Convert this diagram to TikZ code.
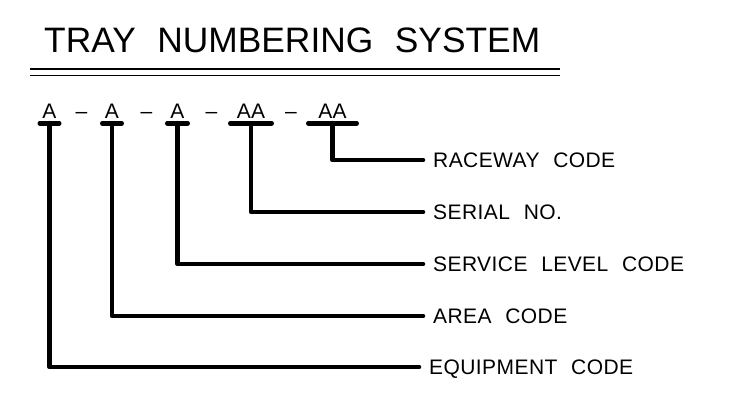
\documentclass[tikz,border=0pt]{standalone}
\usepackage{graphicx}
\usepackage{fontspec}
\newfontfamily\cad[WordSpace=2.2,LetterSpace=2]{Liberation Sans}
\newfontfamily\cadttl[WordSpace=2.2]{Liberation Sans}
\newcommand{\lblfont}{\cad\fontsize{21pt}{24pt}\selectfont}
\newcommand{\ttlfont}{\cadttl\fontsize{36.3pt}{40pt}\selectfont}
\begin{document}
\begin{tikzpicture}[x=1pt,y=-1pt,
  conn/.style={line width=4.6pt, line cap=round, line join=round},
  uline/.style={line width=4.6pt, line cap=round},
  rule/.style={line width=1.2pt},
  codeltr/.style={anchor=base, font=\lblfont, inner xsep=0pt, inner ysep=5pt,
    text depth=0pt, minimum width=#1},
  dashnode/.style={anchor=base, font=\lblfont, inner sep=0pt},
  lbl/.style={anchor=west, font=\lblfont, inner xsep=10pt, inner ysep=0pt,
    text height=15pt, text depth=0pt}]
\useasboundingbox (0,0) rectangle (735,417);

% title and double rule
\node[anchor=base west, inner sep=0pt, font=\ttlfont] (title) at (44,53) {\resizebox{496pt}{!}{TRAY NUMBERING SYSTEM}};
\coordinate (r1a) at (30,69); \coordinate (r1b) at (560,69);
\coordinate (r2a) at (30,75.5); \coordinate (r2b) at (560,75.5);
\draw[rule] (r1a) -- (r1b);
\draw[rule] (r2a) -- (r2b);

% code letters
\node[codeltr=19pt] (c1) at (49.5,118) {A};
\node[codeltr=19pt] (c2) at (112,118) {A};
\node[codeltr=20pt] (c3) at (177.5,118) {A};
\node[codeltr=41pt] (c4) at (251,118) {AA};
\node[codeltr=48pt] (c5) at (332.5,118) {AA};
\node[dashnode] (d1) at (81.5,118) {–};
\node[dashnode] (d2) at (146.5,118) {–};
\node[dashnode] (d3) at (211.5,118) {–};
\node[dashnode] (d4) at (291,118) {–};

\foreach \n in {c1,c2,c3,c4,c5}
  \draw[uline] (\n.south west) -- (\n.south east);

% labels
\node[lbl] (raceway) at (423,160) {RACEWAY CODE};
\node[lbl] (serial) at (423,212) {SERIAL NO.};
\node[lbl] (service) at (423,264) {SERVICE LEVEL CODE};
\node[lbl] (area) at (423,316) {AREA CODE};
\node[lbl] (equip) at (419,367) {EQUIPMENT CODE};

% connectors
\draw[conn] (c5.south) |- (raceway.west);
\draw[conn] (c4.south) |- (serial.west);
\draw[conn] (c3.south) |- (service.west);
\draw[conn] (c2.south) |- (area.west);
\draw[conn] (c1.south) |- (equip.west);
\end{tikzpicture}
\end{document}
